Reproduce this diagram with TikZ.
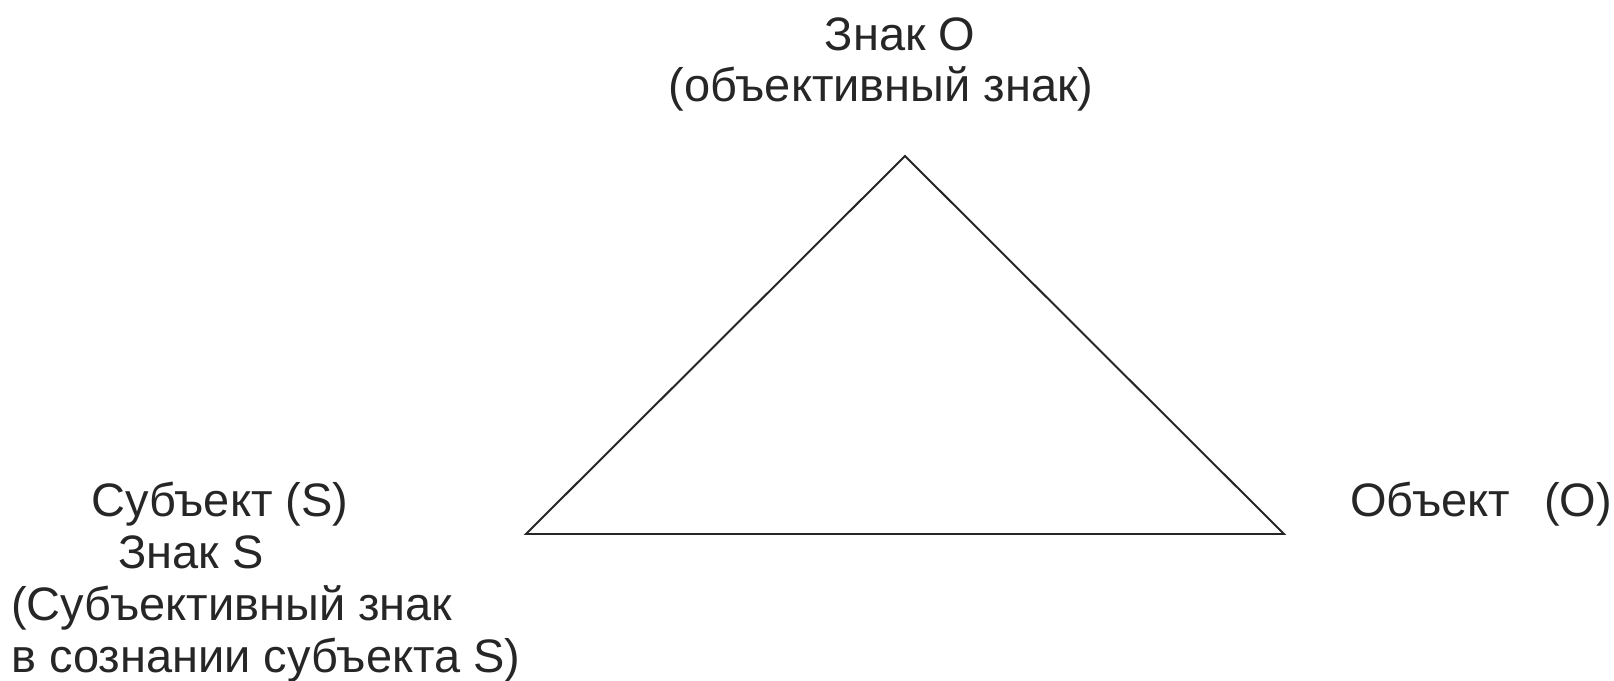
\documentclass[tikz,border=0pt]{standalone}
\usepackage{fontspec}
\setmainfont{Liberation Sans}
\definecolor{ink}{HTML}{262626}
\begin{document}
\begin{tikzpicture}[every node/.style={inner sep=0pt, text=ink, font=\fontsize{33.4}{36.8}\selectfont}]
\useasboundingbox (0,0) rectangle (40.35,17);
\coordinate (top) at (22.625,13.1);
\coordinate (left) at (13.15,3.65);
\coordinate (right) at (32.1,3.65);
\draw[line width=1.4pt, color=ink, line join=miter] (left) -- (top) -- (right) -- cycle;
\node[align=center, anchor=base] (sign) at (22.025,14.45) {\hspace*{0.95cm}Знак О\\(объективный знак)};
\node[align=left, anchor=base west] (subj) at (0.275,0.2) {\hspace*{2.0cm}Субъект (S)\\\hspace*{2.675cm}Знак S\\(Субъективный знак\\в сознании субъекта S)};
\node[anchor=base west] (obj) at (33.75,4.075) {Объект\hspace{0.85cm}(О)};
\end{tikzpicture}
\end{document}
